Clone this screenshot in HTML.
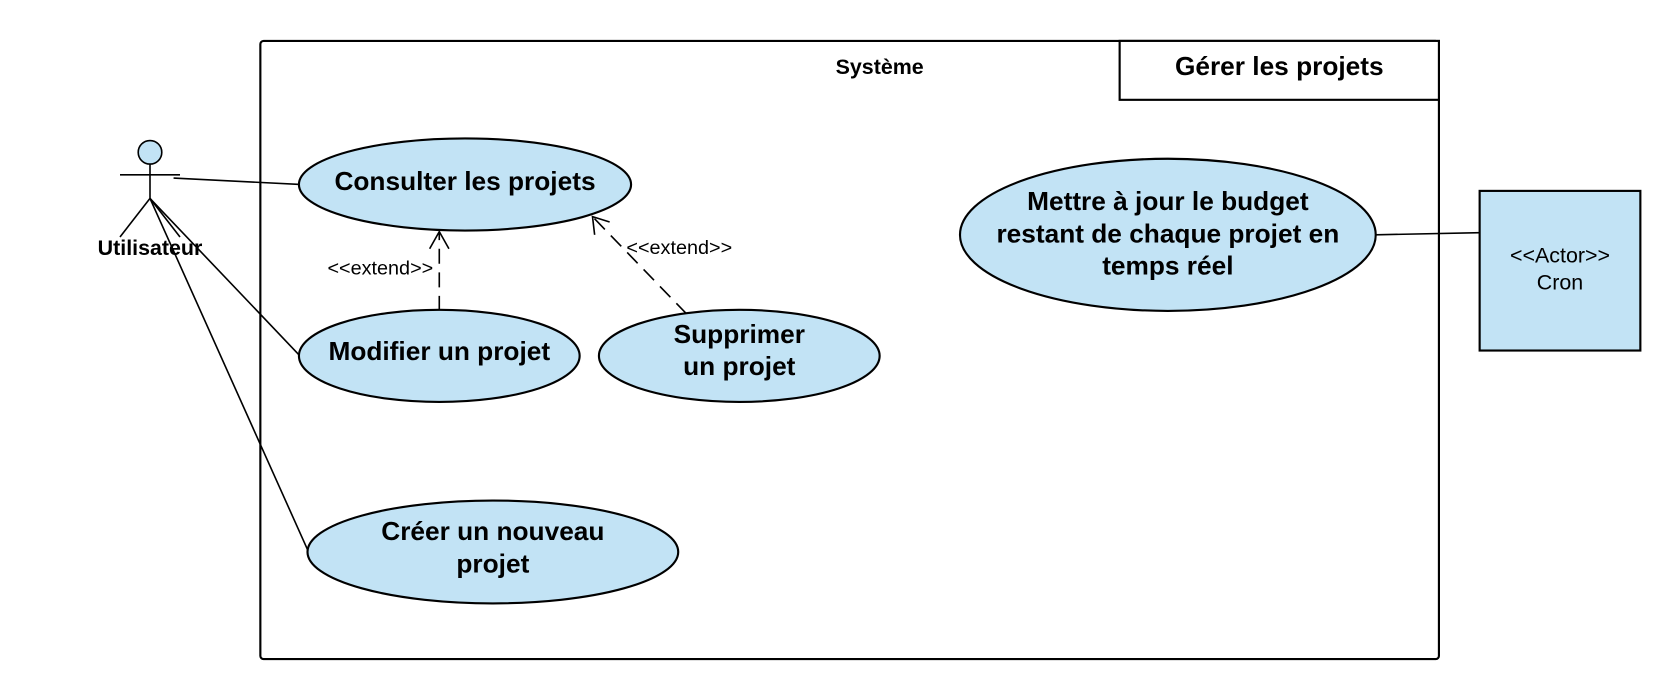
<!DOCTYPE html>
<html><head><meta charset="utf-8"><style>html,body{margin:0;padding:0;background:#fff}svg{display:block}</style></head>
<body>
<svg width="1680" height="700" viewBox="0 0 1568 653" xmlns="http://www.w3.org/2000/svg" font-family="Liberation Sans, sans-serif">
<rect x="243" y="38" width="1100" height="577" rx="3" fill="#fff" stroke="#000" stroke-width="2"/>
<rect x="1045" y="38" width="298" height="55" fill="#fff" stroke="#000" stroke-width="2"/>
<text x="1194" y="70" font-size="24.5" font-weight="bold" text-anchor="middle">Gérer les projets</text>
<text x="821" y="69" font-size="20" font-weight="bold" text-anchor="middle">Système</text>
<g stroke="#000" stroke-width="1.5" fill="none">
<line x1="112" y1="163" x2="168" y2="163"/>
<line x1="140" y1="153" x2="140" y2="185"/>
<line x1="140" y1="185" x2="112" y2="221"/>
<line x1="140" y1="185" x2="168" y2="221"/>
<line x1="162" y1="166" x2="280" y2="172"/>
<line x1="140" y1="185" x2="280" y2="332"/>
<line x1="140" y1="185" x2="288" y2="515"/>
<line x1="1284" y1="219" x2="1381" y2="217"/>
<line x1="410" y1="290" x2="410" y2="216" stroke-dasharray="14,8"/>
<polyline points="401,232 410,216 419,232"/>
<line x1="641" y1="293" x2="553" y2="202" stroke-dasharray="14,8"/>
<polyline points="555,219 553,202 569,207"/>
</g>
<circle cx="140" cy="142" r="11" fill="#c2e3f5" stroke="#000" stroke-width="1.5"/>
<text x="140" y="238" font-size="20" font-weight="bold" text-anchor="middle">Utilisateur</text>
<g fill="#c2e3f5" stroke="#000" stroke-width="2">
<ellipse cx="434" cy="172" rx="155" ry="43"/>
<ellipse cx="410" cy="332" rx="131" ry="43"/>
<ellipse cx="690" cy="332" rx="131" ry="43"/>
<ellipse cx="460" cy="515" rx="173" ry="48"/>
<ellipse cx="1090" cy="219" rx="194" ry="71"/>
<rect x="1381" y="178" width="150" height="149"/>
</g>
<g font-size="24.5" font-weight="bold" text-anchor="middle">
<text x="434" y="177">Consulter les projets</text>
<text x="410" y="336">Modifier un projet</text>
<text x="690" y="320">Supprimer</text>
<text x="690" y="350">un projet</text>
<text x="460" y="504">Créer un nouveau</text>
<text x="460" y="534">projet</text>
<text x="1090" y="196">Mettre à jour le budget</text>
<text x="1090" y="226">restant de chaque projet en</text>
<text x="1090" y="256">temps réel</text>
</g>
<g font-size="18.5" text-anchor="middle">
<text x="355" y="256">&lt;&lt;extend&gt;&gt;</text>
<text x="634" y="237">&lt;&lt;extend&gt;&gt;</text>
<text x="1456" y="245" font-size="20">&lt;&lt;Actor&gt;&gt;</text>
<text x="1456" y="270" font-size="20">Cron</text>
</g>
</svg>
</body></html>
